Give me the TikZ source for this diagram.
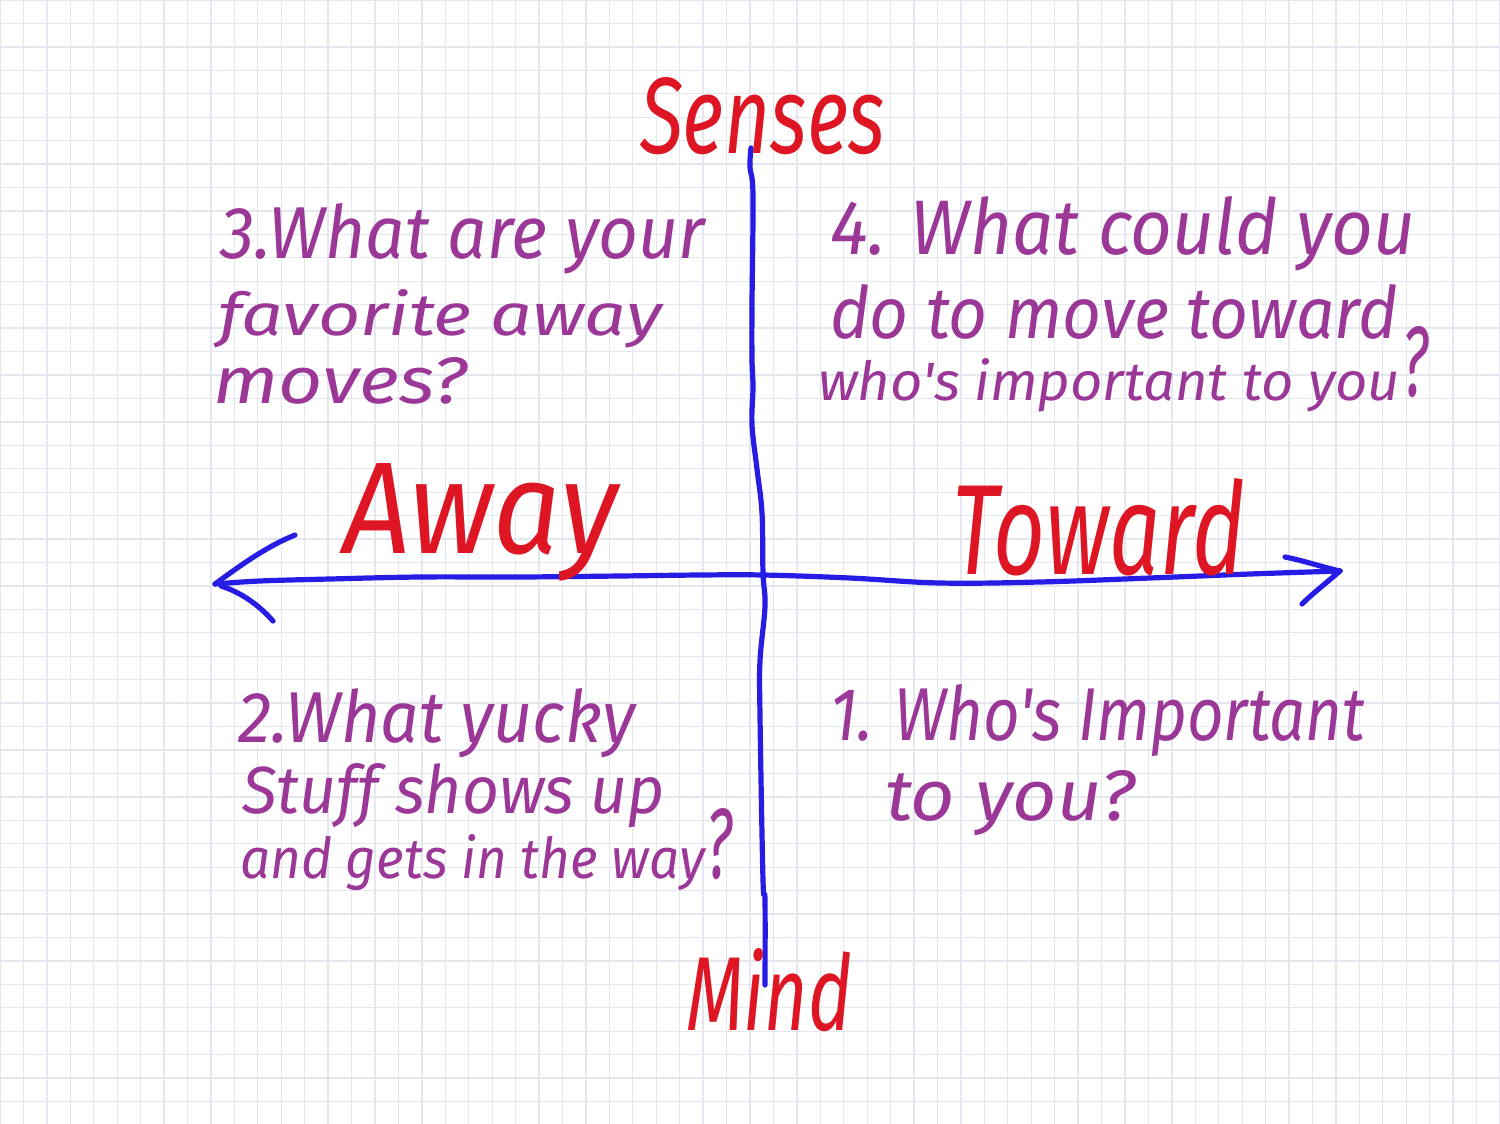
\documentclass[tikz,border=0pt]{standalone}
\usepackage{fontspec}
\usepackage{graphicx}
\newfontfamily\hand{Fira Sans Italic}
\usetikzlibrary{calc}
\definecolor{inkred}{RGB}{222,22,36}
\definecolor{inkpurple}{RGB}{155,55,150}
\definecolor{inkblue}{RGB}{38,28,228}
\definecolor{gridcol}{RGB}{228,230,240}
\newlength\pxu
\setlength\pxu{0.5pt}
% width px, height px (baseline to top), text
\newcommand\hw[3]{\resizebox{#1\pxu}{#2\pxu}{#3}}
\begin{document}
\begin{tikzpicture}[x=0.5pt,y=-0.5pt,
  gridline/.style={draw=gridcol,line width=0.65pt},
  axis/.style={draw=inkblue,line width=2.6pt,line cap=round,line join=round},
  label/.style={anchor=base west,inner sep=0pt,outer sep=0pt,text=inkred,font=\hand\fontsize{40}{48}\selectfont},
  question/.style={anchor=base west,inner sep=0pt,outer sep=0pt,text=inkpurple,font=\hand\fontsize{40}{48}\selectfont}]
\useasboundingbox (0,0) rectangle (1500,1124);
\fill[white] (0,0) rectangle (1500,1124);
% grid paper
\foreach \i in {0,...,64} \draw[gridline] ({\i*23.4375},0) -- ({\i*23.4375},1124);
\foreach \j in {0,...,47} \draw[gridline] (0,{\j*23.4375}) -- (1500,{\j*23.4375});

% axes
\coordinate (vtop) at (751,148);
\coordinate (vbot) at (765,985);
\coordinate (hleft) at (215,584);
\coordinate (hright) at (1340,571);
\draw[axis] plot[smooth,tension=0.6] coordinates {(vtop) (750,167) (753,195) (752,305) (752,359) (753,387) (752,425) (757,469) (762,513) (763,573) (765,606) (760,661) (760,716) (763,880) (765,900) (vbot)};
\draw[axis] plot[smooth,tension=0.6] coordinates {(hleft) (260,581) (330,579) (420,577) (520,577) (620,576) (700,575) (763,575) (850,578) (940,583) (1040,582) (1150,578) (1250,574) (hright)};
% arrow heads
\draw[axis] (hleft) .. controls (245,562) and (268,546) .. (295,535);
\draw[axis] (221,586) .. controls (240,592) and (258,604) .. (273,621);
\draw[axis] (1285,557) .. controls (1305,561) and (1322,567) .. (hright);
\draw[axis] (hright) .. controls (1325,584) and (1312,594) .. (1302,604);

% axis labels
\node[label] (senses) at (640,153) {\hw{245}{76}{Senses}};
\node[label] (away)   at (343,553) {\hw{275}{90}{Away}};
\node[label] (toward) at (952,574) {\hw{293}{96}{Toward}};
\node[label] (mind)   at (686,1030) {\hw{166}{82}{Mind}};

% quadrant 3 (top left)
\node[question] (q3a) at (220,258) {\hw{485}{55}{3.What are your}};
\node[question] (q3b) at (218,335) {\hw{444}{46}{favorite away}};
\node[question] (q3c) at (213,403) {\hw{254}{46}{moves?}};

% quadrant 4 (top right)
\node[question] (q4a) at (830,254) {\hw{585}{58}{4. What could you}};
\node[question] (q4b) at (830,338) {\hw{568}{54}{do to move toward}};
\node[question] (q4c) at (818,400) {\hw{582}{42}{who's important to you}};
\node[question] (q4q) at (1402,396) {\hw{26}{70}{?}};

% quadrant 2 (bottom left)
\node[question] (q2a) at (238,742) {\hw{397}{54}{2.What yucky}};
\node[question] (q2b) at (242,813) {\hw{423}{50}{Stuff shows up}};
\node[question] (q2c) at (240,878) {\hw{465}{44}{and gets in the way}};
\node[question] (q2q) at (706,878) {\hw{26}{70}{?}};

% quadrant 1 (bottom right)
\node[question] (q1a) at (830,740) {\hw{535}{56}{1. Who's Important}};
\node[question] (q1b) at (885,820) {\hw{250}{50}{to you?}};
\end{tikzpicture}
\end{document}
